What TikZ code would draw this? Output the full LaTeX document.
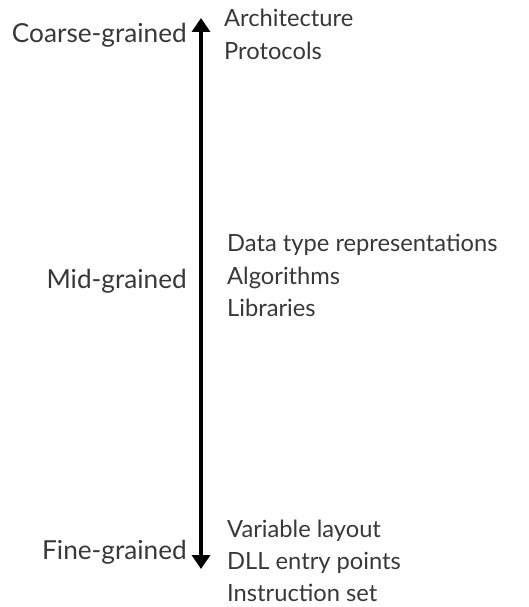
\documentclass[tikz,border=0pt]{standalone}
\usepackage{fontspec}
\setmainfont{Lato}
\definecolor{txt}{HTML}{383838}
\usetikzlibrary{arrows.meta}
\tikzset{
	grain/.style={anchor=base east, inner sep=0pt, text=txt, font=\fontsize{26.2}{33}\selectfont},
	item/.style={anchor=base west, inner sep=0pt, text=txt, font=\fontsize{23.7}{33}\selectfont}
}

\begin{document}
\begin{tikzpicture}[x=1pt, y=-1pt]
			\useasboundingbox (0,0) rectangle (528,607);

			\coordinate (top) at (201,18);
			\coordinate (bot) at (201,569);

			\draw[line width=4.5pt, {Triangle[length=14pt,width=18pt]}-{Triangle[length=14pt,width=18pt]}] (top) -- (bot);

			\node[grain] (coarse) at (187,43) {Coarse-grained};
			\node[grain] (mid) at (187,288) {Mid-grained};
			\node[grain] (fine) at (187,559) {Fine-grained};

			\node[item] (arch) at (224,27) {Architecture};
			\node[item] (proto) at (224,60) {Protocols};

			\node[item] (dtype) at (227,251) {Data type representations};
			\node[item] (algo) at (227,284) {Algorithms};
			\node[item] (libs) at (227,316) {Libraries};

			\node[item] (varlay) at (227,537) {Variable layout};
			\node[item] (dll) at (227,569) {DLL entry points};
			\node[item] (instr) at (227,601) {Instruction set};

		\end{tikzpicture}
\end{document}
